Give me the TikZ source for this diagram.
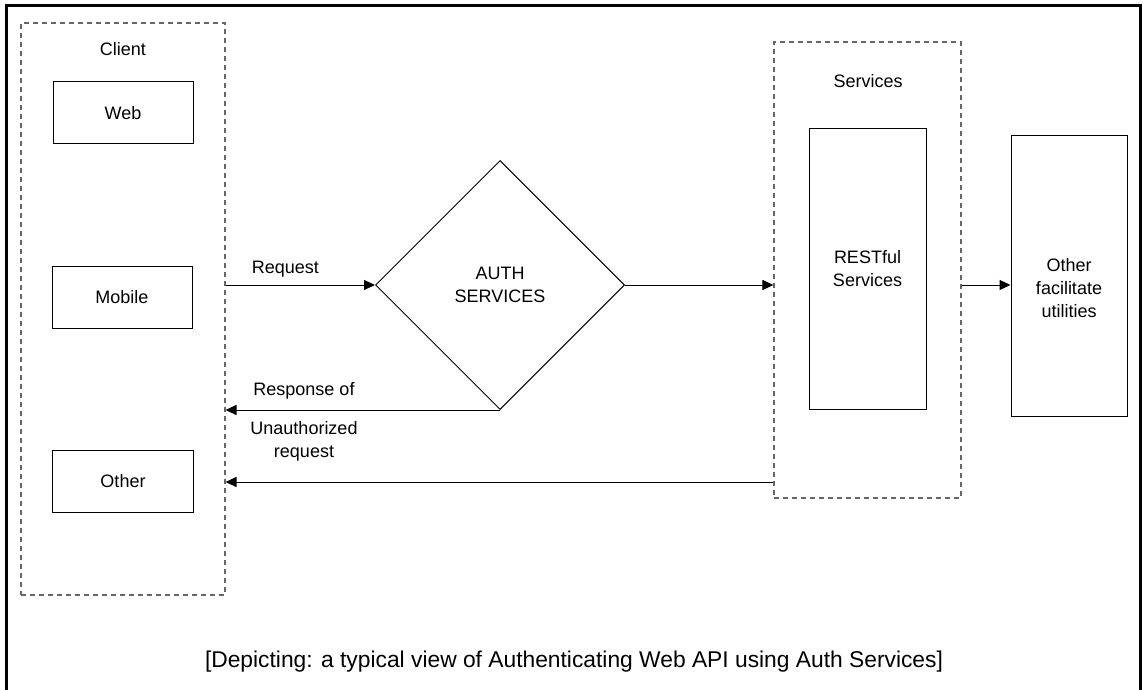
\documentclass[tikz,border=0pt]{standalone}
\usepackage{fontspec}
\setmainfont{Liberation Sans}
\usetikzlibrary{shapes.geometric,arrows.meta}
\begin{document}
\begin{tikzpicture}[x=1pt,y=-1pt,
  txt/.style={font=\fontsize{18}{23}\selectfont, align=center, inner sep=0pt},
  boxed/.style={draw, line width=1pt, inner sep=0pt, txt},
  group/.style={draw=black!60, line width=1.1pt, dash pattern=on 5pt off 4pt, inner sep=0pt},
  arr/.style={line width=1pt, -{Triangle[length=11pt,width=10pt]}}]
\useasboundingbox (0,0) rectangle (1143,690);
\draw[line width=3pt] (6,690) -- (6,6) -- (1140,6) -- (1140,690);
% client group
\node[group, minimum width=204pt, minimum height=572pt] (client) at (123,309) {};
\node[txt] (clientlbl) at (123,49) {Client};
\node[boxed, minimum width=140pt, minimum height=62pt] (web) at (123,113) {Web};
\node[boxed, minimum width=140pt, minimum height=62pt] (mobile) at (122,297) {Mobile};
\node[boxed, minimum width=141pt, minimum height=62pt] (other) at (123,481) {Other};
% auth
\node[diamond, draw, line width=1pt, aspect=1, minimum size=249pt, inner sep=0pt, txt] (auth) at (500,285) {AUTH\\SERVICES};
% services group
\node[group, minimum width=187pt, minimum height=456pt] (services) at (867.5,270) {};
\node[txt] (serviceslbl) at (868,81) {Services};
\node[boxed, minimum width=117pt, minimum height=280pt] (restful) at (867.5,269) {RESTful\\Services};
\node[boxed, minimum width=116pt, minimum height=280pt] (util) at (1069,276) {};
\node[txt] (utiltxt) at (1069,288) {Other\\facilitate\\utilities};
% connectors
\coordinate (ry) at (0,482);
\draw[arr] (client.east |- auth.west) -- node[txt, above=7pt, xshift=-15pt] (reqlbl) {Request} (auth.west);
\draw[arr] (auth.east) -- (auth.east -| services.west);
\draw[arr] (services.east |- auth.east) -- (util.west |- auth.east);
\draw[arr] (auth.south) -- (auth.south -| client.east);
\node[txt] (resp1) at (304,391) {Response of};
\node[txt] (resp2) at (304,441) {Unauthorized\\request};
\draw[arr] (services.west |- ry) -- (client.east |- ry);
% caption
\node[inner sep=0pt, font=\fontsize{22.8}{26}\selectfont] (caption) at (574,662) {[Depicting: a typical view of Authenticating Web API using Auth Services]};
\end{tikzpicture}
\end{document}
